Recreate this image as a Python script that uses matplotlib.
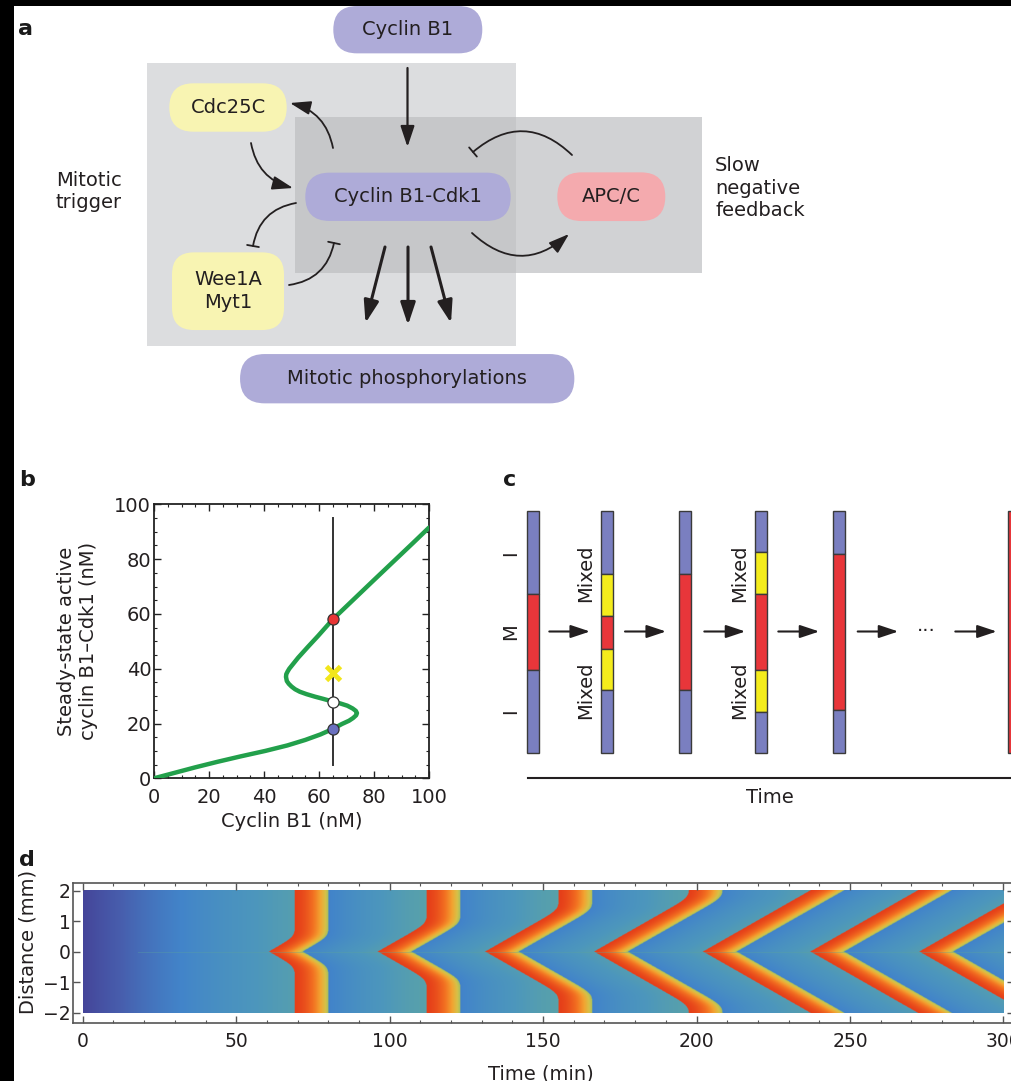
import numpy as np
import matplotlib
matplotlib.use("Agg")
import matplotlib.pyplot as plt
from matplotlib.patches import FancyBboxPatch, Rectangle, FancyArrowPatch, ArrowStyle
from matplotlib.colors import LinearSegmentedColormap
from matplotlib.ticker import MultipleLocator

plt.rcParams["font.family"] = ["DejaVu Sans"]
INK = "#231f20"
plt.rcParams["text.color"] = INK

W, H = 1011, 1081
FS = 14

# ---------------- b: steady-state response curve ----------------
cyclin_b1_total = [0, 7.5, 15, 23, 31.5, 40.5, 48.5, 55, 60.5, 65, 68.3, 70.9, 72.4, 73.5, 73.8,
                   73.4, 72.2, 70.3, 67.8, 65, 61.5, 58.5, 55.5, 53, 51.3, 50, 49, 48.3,
                   48.0, 48.1, 48.6, 49.2, 50, 52.4, 56, 59.7, 65, 72.3, 79.6, 88, 94.3, 100]
active_cdk1 = [0, 2, 4, 6, 8, 10, 12, 14, 16, 18, 19.8, 21, 22, 23, 23.8,
               24.6, 25.5, 26.5, 27.3, 28, 29, 29.8, 30.7, 31.6, 32.5, 33.5, 34.5, 35.5,
               37, 38, 39, 40, 41, 44, 48, 52, 58, 65, 72, 80, 86, 91.5]
probe_cyclin = 65
probe_span = [5, 95]
fixed_points = [58, 28, 18]
fixed_colors = ["#e83535", "white", "#6a70bf"]
start_state = 38.3

# ---------------- c: interphase / mitosis / mixed states ----------------
bar_states = [
    ["I", "M", "I"],
    ["I", "X", "M", "X", "I"],
    ["I", "M", "I"],
    ["I", "X", "M", "X", "I"],
    ["I", "M", "I"],
    ["M"],
]
bar_fracs = [
    [0.345, 0.31, 0.345],
    [0.262, 0.17, 0.139, 0.169, 0.26],
    [0.26, 0.48, 0.26],
    [0.17, 0.173, 0.314, 0.172, 0.171],
    [0.18, 0.64, 0.18],
    [1.0],
]
state_colors = {"I": "#7a7fc0", "M": "#e8363a", "X": "#f4ec1c"}

# ---------------- d: trigger waves in space and time ----------------
wave_tip_times = [60.5, 96, 131, 166.5, 202, 237, 272.5]     # min, wave leaves x = 0
wave_bulk_times = [69, 112, 155, 197.5, None, None, None]   # min, bulk phase trigger
front_speed = 0.057      # mm/min
pulse_length = 11.0      # min

fig = plt.figure(figsize=(W / 100, H / 100), dpi=100)
ov = fig.add_axes([0, 0, 1, 1])
ov.set_xlim(0, W)
ov.set_ylim(H, 0)
ov.axis("off")

# black frame strips
ov.add_patch(Rectangle((0, 0), 13.5, H, fc="black", ec="none", zorder=50))
ov.add_patch(Rectangle((0, 0), W, 5.5, fc="black", ec="none", zorder=50))

# panel letters
for lbl, x, y in [("a", 18, 35), ("b", 19, 486.5), ("c", 502.5, 486.5), ("d", 19, 866.5)]:
    ov.text(x, y, lbl, fontsize=16, fontweight="bold", ha="left", va="baseline", color="#1a1a1a")

# ---------------- panel a ----------------
PURPLE = "#aeabd8"
YELLOW = "#f8f4b2"
PINK = "#f4aaae"

ov.add_patch(Rectangle((147.3, 62.7), 368.7, 283, fc="#dcdddf", ec="none", zorder=1))
ov.add_patch(Rectangle((295, 116.7), 407.3, 156, fc="#d1d2d4", ec="none", zorder=1))
ov.add_patch(Rectangle((295, 116.7), 221, 156, fc="#c6c7c9", ec="none", zorder=1.1))


def node(cx, cy, w, h, color, text, r=None):
    r = h / 2 if r is None else r
    ov.add_patch(FancyBboxPatch((cx - w / 2, cy - h / 2), w, h,
                                boxstyle=f"round,pad=0,rounding_size={r}",
                                fc=color, ec="none", zorder=2))
    ov.text(cx, cy, text, ha="center", va="center", fontsize=FS, zorder=3,
            linespacing=1.25)


node(407.8, 29.7, 149, 47.3, PURPLE, "Cyclin B1")
node(228, 107.5, 117.4, 48.4, YELLOW, "Cdc25C")
node(408, 196.8, 205.4, 48.3, PURPLE, "Cyclin B1-Cdk1")
node(228, 291.2, 112, 77.7, YELLOW, "Wee1A\nMyt1", r=22)
node(611.3, 196.7, 108, 48.7, PINK, "APC/C")
node(407.2, 378.7, 334.3, 49.3, PURPLE, "Mitotic phosphorylations")

ov.text(56, 191.5, "Mitotic\ntrigger", ha="left", va="center", fontsize=FS, linespacing=1.25)
ov.text(715, 188, "Slow\nnegative\nfeedback", ha="left", va="center", fontsize=FS,
        linespacing=1.25)

head = ArrowStyle("-|>", head_length=0.9, head_width=0.3)
bar = ArrowStyle("-[", widthB=0.43, lengthB=0.0)


def link(p0, p1, rad=0.0, lw=1.3, style=head, ms=14):
    ov.add_patch(FancyArrowPatch(p0, p1, connectionstyle=f"arc3,rad={rad}",
                                 arrowstyle=style, mutation_scale=ms, lw=lw,
                                 color=INK, shrinkA=0, shrinkB=0, zorder=4))


link((407.5, 68), (407.5, 147), lw=1.6)
link((333, 148), (290, 103), rad=0.32)
link((251, 143), (293, 188), rad=0.32)
link((296, 203), (253, 246), rad=0.35, style=bar, ms=10)
link((289, 285), (334, 243), rad=0.35, style=bar, ms=10)
link((385, 247), (365.5, 323), lw=2.2, ms=15)
link((408, 247), (408, 325), lw=2.2, ms=15)
link((431, 247), (451, 323), lw=2.2, ms=15)
link((572, 155), (473, 152), rad=0.45, style=bar, ms=10)
link((472, 233), (569, 234), rad=0.45)

# ---------------- panel c ----------------
bar_left = [526.7, 601, 679, 755, 832.7, 1008.3]
bar_w, bar_top, bar_h = 12.3, 510.7, 242.6
for x0, states, fracs in zip(bar_left, bar_states, bar_fracs):
    y = bar_top
    for s, f in zip(states, fracs):
        ov.add_patch(Rectangle((x0, y), bar_w, f * bar_h, fc=state_colors[s],
                               ec="#3a3a3a", lw=1.0, zorder=3))
        y += f * bar_h

arrow_y = 631.5
for xa, xb in [(549.3, 590), (625, 666), (704.3, 745.3), (778.3, 819.3),
               (857.7, 898.3), (955.3, 996.7)]:
    link((xa, arrow_y), (xb, arrow_y), lw=1.5, ms=13)
ov.text(926.7, arrow_y, "···", ha="center", va="center", fontsize=FS)

for x in (585.7, 739.3):
    ov.text(x, 573.3, "Mixed", rotation=90, ha="center", va="center", fontsize=FS)
    ov.text(x, 690, "Mixed", rotation=90, ha="center", va="center", fontsize=FS)
for lbl, y in [("I", 552.7), ("M", 631.7), ("I", 710.7)]:
    ov.text(510.5, y, lbl, rotation=90, ha="center", va="center", fontsize=FS)

ov.plot([527.7, W], [777.7, 777.7], color=INK, lw=1.5)
ov.text(770, 797.3, "Time", ha="center", va="center", fontsize=FS)

# ---------------- panel b ----------------
axb = fig.add_axes([154 / W, 1 - 778.3 / H, 275 / W, 274 / H])
axb.plot(cyclin_b1_total, active_cdk1, color="#22a04b", lw=3.2,
         solid_capstyle="round", solid_joinstyle="round", zorder=3)
axb.plot([probe_cyclin, probe_cyclin], probe_span, color="#333333", lw=1.4, zorder=2)
for yv, c in zip(fixed_points, fixed_colors):
    axb.plot(probe_cyclin, yv, "o", ms=8, mfc=c, mec="#333333", mew=0.9, zorder=4)
axb.plot(probe_cyclin, start_state, marker="x", ms=10, mew=3.5, color="#f2e61a",
         linestyle="none", zorder=5)
axb.set_xlim(0, 100)
axb.set_ylim(0, 100)
axb.xaxis.set_major_locator(MultipleLocator(20))
axb.yaxis.set_major_locator(MultipleLocator(20))
axb.xaxis.set_minor_locator(MultipleLocator(5))
axb.yaxis.set_minor_locator(MultipleLocator(5))
axb.tick_params(which="both", direction="in", top=True, right=True, color="#222222",
                labelsize=FS, labelcolor=INK)
axb.tick_params(which="major", length=5, width=1.0)
axb.tick_params(which="minor", length=2.5, width=0.8)
axb.tick_params(axis="x", pad=7)
axb.tick_params(axis="y", pad=2)
for sp in axb.spines.values():
    sp.set_linewidth(1.3)
    sp.set_color("#222222")
ov.text(77.5, 641, "Steady-state active\ncyclin B1\u2013Cdk1 (nM)", rotation=90,
        ha="center", va="center", fontsize=FS, linespacing=1.25)
ov.text(291.7, 821.7, "Cyclin B1 (nM)", ha="center", va="center", fontsize=FS)

# ---------------- panel d ----------------
t = np.linspace(0, 300, 1501)
xg = np.linspace(-2, 2, 401)
T, X = np.meshgrid(t, xg)
last = np.full(T.shape, -np.inf)
for tip, bulk in zip(wave_tip_times, wave_bulk_times):
    arr = tip + np.abs(X) / front_speed
    if bulk is not None:
        arr = -1.5 * np.logaddexp(-arr / 1.5, -bulk / 1.5)
    last = np.where(T >= arr, arr, last)
since = T - last
fresh = np.isinf(last)
bg_fresh = 0.5 * (1 - np.exp(-T / 35))
with np.errstate(invalid="ignore"):
    bg_after = 0.29 + 0.2 * (1 - np.exp(-np.clip(since - pulse_length, 0, None) / 22))
    pulse = 1.0 - 0.44 * np.clip(since / pulse_length, 0, 1) ** 1.7
field = np.where(fresh, bg_fresh, np.where(since < pulse_length, pulse, bg_after))

cmap = LinearSegmentedColormap.from_list("wave", [
    (0.00, (0.27, 0.27, 0.60)),
    (0.15, (0.28, 0.37, 0.68)),
    (0.30, (0.26, 0.52, 0.79)),
    (0.40, (0.30, 0.59, 0.74)),
    (0.47, (0.38, 0.66, 0.62)),
    (0.55, (0.60, 0.74, 0.40)),
    (0.63, (0.84, 0.76, 0.28)),
    (0.73, (0.95, 0.64, 0.19)),
    (0.85, (0.95, 0.44, 0.13)),
    (1.00, (0.90, 0.25, 0.10)),
])

axd = fig.add_axes([73.3 / W, 1 - 1022.7 / H, (1013.5 - 73.3) / W, 140 / H])
axd.imshow(field, extent=[0, 300, -2, 2], origin="lower", aspect="auto", cmap=cmap,
           vmin=0, vmax=1, interpolation="bilinear")
axd.plot([18, 300], [0, 0], color=(0.36, 0.64, 0.62), lw=0.7, alpha=0.35)
axd.set_xlim(-3.1, 303.3)
axd.set_ylim(-2.33, 2.26)
axd.xaxis.set_major_locator(MultipleLocator(50))
axd.xaxis.set_minor_locator(MultipleLocator(10))
axd.yaxis.set_major_locator(MultipleLocator(1))
axd.tick_params(which="both", direction="in", top=True, right=True, color="#555555",
                labelsize=13.5, labelcolor=INK)
axd.tick_params(which="major", length=5, width=1.0)
axd.tick_params(which="minor", length=2.5, width=0.8)
axd.tick_params(axis="x", pad=7)
axd.tick_params(axis="y", pad=2)
for sp in axd.spines.values():
    sp.set_linewidth(1.2)
    sp.set_color("#555555")
ov.text(28.5, 942, "Distance (mm)", rotation=90, ha="center", va="center", fontsize=FS)
ov.text(541, 1079, "Time (min)", ha="center", va="baseline", fontsize=FS)

fig.savefig("out.png", dpi=100)
